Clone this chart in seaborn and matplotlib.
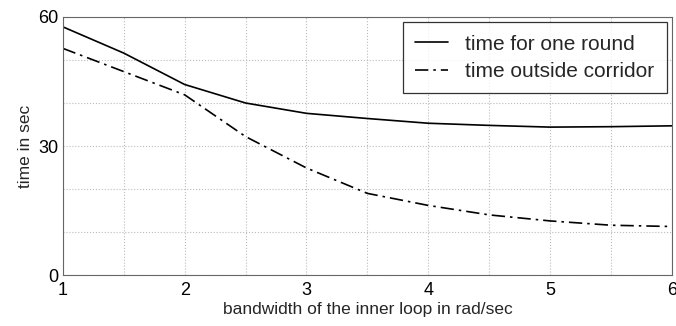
import matplotlib
matplotlib.use("Agg")
import matplotlib.pyplot as plt
import seaborn as sns
import pandas as pd

bandwidth = [1, 1.5, 2, 2.5, 3, 3.5, 4, 4.5, 5, 5.5, 6]
time_round = [57.7, 51.6, 44.3, 40.0, 37.6, 36.4, 35.3, 34.8, 34.4, 34.5, 34.7]
time_outside = [52.7, 47.3, 41.9, 32.2, 24.9, 19.0, 16.2, 14.0, 12.6, 11.6, 11.3]

df = pd.DataFrame({"bandwidth": bandwidth,
                   "time for one round": time_round,
                   "time outside corridor": time_outside})

sns.set_style("white")
plt.rcParams["font.family"] = ["Liberation Sans", "DejaVu Sans"]

fig = plt.figure(figsize=(6.76, 3.26), dpi=100)
ax = fig.add_axes([0.093, 0.156, 0.901, 0.792])

sns.lineplot(data=df, x="bandwidth", y="time for one round", color="black",
             linewidth=1.2, linestyle="-", label="time for one round", ax=ax)
sns.lineplot(data=df, x="bandwidth", y="time outside corridor", color="black",
             linewidth=1.2, linestyle=(0, (8, 3, 1.5, 3)),
             label="time outside corridor", ax=ax)

ax.set_xlim(1, 6)
ax.set_ylim(0, 60)
ax.set_xticks([1, 2, 3, 4, 5, 6])
ax.set_xticks([1.5, 2.5, 3.5, 4.5, 5.5], minor=True)
ax.set_yticks([0, 30, 60])
ax.set_yticks([10, 20, 40, 50], minor=True)
ax.grid(True, which="both", linestyle=":", color="#bbbbbb", linewidth=0.8)
ax.tick_params(which="both", direction="in", length=4, labelsize=13, colors="black", pad=3)
ax.tick_params(axis="x", pad=5)
ax.tick_params(which="minor", length=0)
for s in ax.spines.values():
    s.set_color("#666666")
    s.set_linewidth(0.8)

ax.set_xlabel("bandwidth of the inner loop in rad/sec", fontsize=12.5, labelpad=2)
ax.set_ylabel("time in sec", fontsize=12.5, labelpad=4)

leg = ax.legend(loc="upper right", fontsize=15, frameon=True, fancybox=False,
                edgecolor="black", handlelength=1.6, handletextpad=0.8,
                borderaxespad=0.25, labelspacing=0.4, borderpad=0.6)
leg.get_frame().set_linewidth(0.9)

fig.savefig("out.png", dpi=100)
